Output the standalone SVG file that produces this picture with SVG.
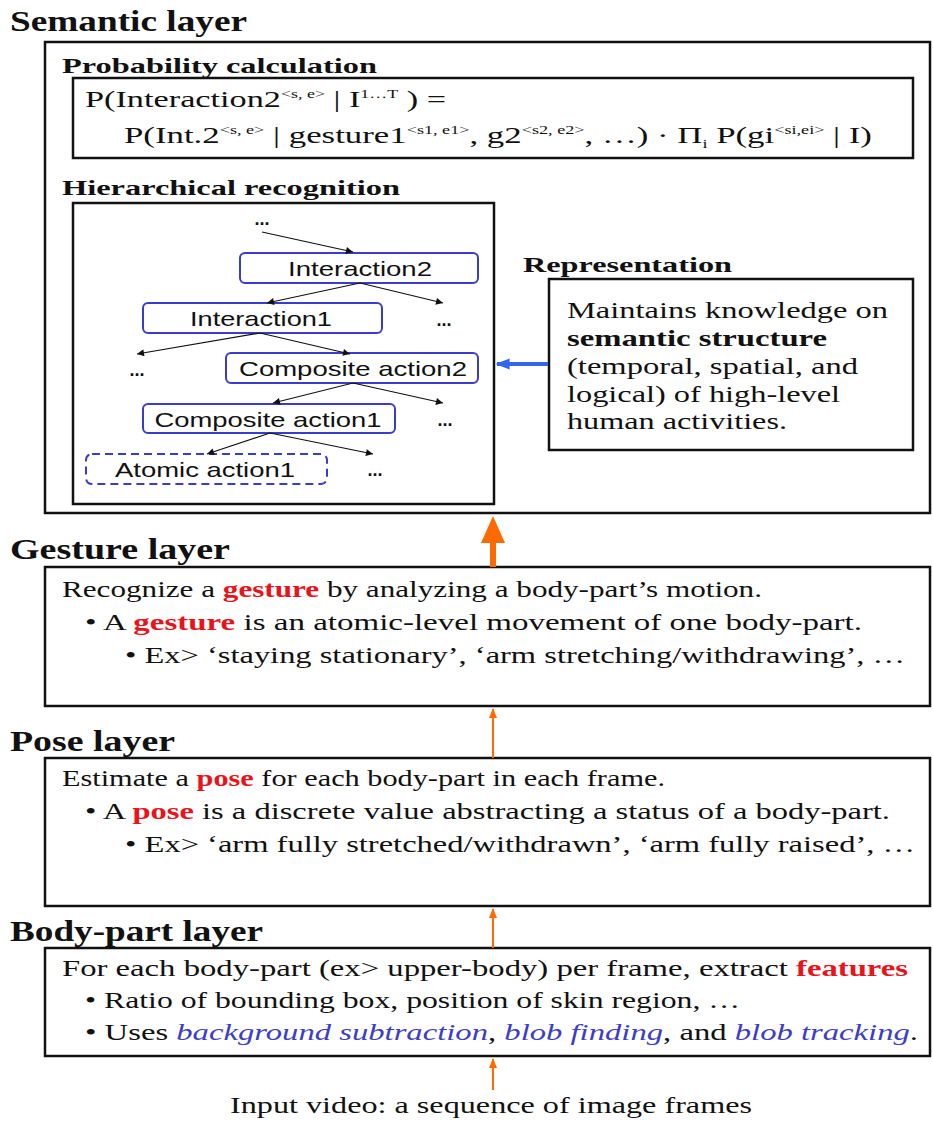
<svg xmlns="http://www.w3.org/2000/svg" width="933" height="1123" viewBox="0 0 933 1123">
<defs>
<style>
.title{font-family:"Liberation Serif",serif;font-weight:bold;font-size:29px;fill:#111}
.sub{font-family:"Liberation Serif",serif;font-weight:bold;font-size:22px;fill:#111}
.body{font-family:"Liberation Serif",serif;font-size:23px;fill:#111}
.rep{font-family:"Liberation Serif",serif;font-size:24px;fill:#111}
.frm{font-family:"Liberation Serif",serif;font-size:23px;fill:#111}
.sup{font-size:12px}
.node{font-family:"Liberation Sans",Arial,sans-serif;font-size:21px;fill:#111;text-anchor:middle}
.dots{font-family:"Liberation Sans",Arial,sans-serif;font-size:18px;font-weight:bold;fill:#111;text-anchor:middle}
.red{fill:#e8141b;font-weight:bold}
.bl{fill:#3d3dc8;font-style:italic}
.box{fill:#fff;stroke:#111;stroke-width:2.5}
.nbox{fill:#fff;stroke:#3b3bcc;stroke-width:2}
.tree{stroke:#111;stroke-width:1.2;fill:none;marker-end:url(#ah)}
.orange{stroke:#ff6a00;fill:none}
</style>
<marker id="ah" viewBox="0 0 10 10" refX="10" refY="5" markerWidth="9" markerHeight="7" markerUnits="userSpaceOnUse" orient="auto"><path d="M0,0 L10,5 L0,10 z" fill="#111"/></marker>
<marker id="oh" viewBox="0 0 10 10" refX="9" refY="5" markerWidth="10" markerHeight="10" markerUnits="userSpaceOnUse" orient="auto"><path d="M0,1 L10,5 L0,9 z" fill="#ff6a00"/></marker>
<marker id="bh" viewBox="0 0 10 10" refX="9" refY="5" markerWidth="14" markerHeight="14" markerUnits="userSpaceOnUse" orient="auto"><path d="M0,1 L10,5 L0,9 z" fill="#3366ee"/></marker>
</defs>
<rect width="933" height="1123" fill="#fff"/>

<g id="semantic-layer">
<text class="title" x="10" y="31" textLength="237" lengthAdjust="spacingAndGlyphs">Semantic layer</text>
<rect class="box" x="45" y="42" width="885" height="471"/>
</g>

<g id="probability">
<text class="sub" x="62" y="73" textLength="315" lengthAdjust="spacingAndGlyphs">Probability calculation</text>
<rect class="box" x="73" y="78" width="840" height="80"/>
<text class="frm" x="85" y="107" textLength="361" lengthAdjust="spacingAndGlyphs">P(Interaction2<tspan class="sup" dy="-9">&lt;s, e&gt;</tspan><tspan dy="9"> | I</tspan><tspan class="sup" dy="-9">1…T</tspan><tspan dy="9"> ) =</tspan></text>
<text class="frm" x="124" y="143" textLength="748" lengthAdjust="spacingAndGlyphs">P(Int.2<tspan class="sup" dy="-9">&lt;s, e&gt;</tspan><tspan dy="9"> | gesture1</tspan><tspan class="sup" dy="-9">&lt;s1, e1&gt;</tspan><tspan dy="9">, g2</tspan><tspan class="sup" dy="-9">&lt;s2, e2&gt;</tspan><tspan dy="9">, …) · Π</tspan><tspan class="sup" dy="5">i</tspan><tspan dy="-5"> P(gi</tspan><tspan class="sup" dy="-9">&lt;si,ei&gt;</tspan><tspan dy="9"> | I)</tspan></text>
</g>

<g id="hierarchical">
<text class="sub" x="62" y="195" textLength="338" lengthAdjust="spacingAndGlyphs">Hierarchical recognition</text>
<rect class="box" x="73" y="203" width="421" height="301"/>
</g>

<g id="node-interaction2">
<rect class="nbox" x="240" y="253" width="238" height="30" rx="5"/>
<text class="node" x="360" y="276" textLength="144" lengthAdjust="spacingAndGlyphs">Interaction2</text>
</g>
<g id="node-interaction1">
<rect class="nbox" x="143" y="303" width="239" height="30" rx="5"/>
<text class="node" x="261" y="326" textLength="142" lengthAdjust="spacingAndGlyphs">Interaction1</text>
</g>
<g id="node-composite2">
<rect class="nbox" x="226" y="353" width="252" height="30" rx="5"/>
<text class="node" x="353" y="376" textLength="228" lengthAdjust="spacingAndGlyphs">Composite action2</text>
</g>
<g id="node-composite1">
<rect class="nbox" x="143" y="404" width="252" height="29" rx="5"/>
<text class="node" x="268" y="427" textLength="227" lengthAdjust="spacingAndGlyphs">Composite action1</text>
</g>
<g id="node-atomic1">
<rect class="nbox" x="86" y="454" width="241" height="30" rx="6" stroke-dasharray="8,5"/>
<text class="node" x="205" y="477" textLength="180" lengthAdjust="spacingAndGlyphs">Atomic action1</text>
</g>
<g id="dots">
<text class="dots" x="262" y="225">...</text>
<text class="dots" x="444" y="326">...</text>
<text class="dots" x="137" y="376">...</text>
<text class="dots" x="445" y="426">...</text>
<text class="dots" x="375" y="476">...</text>
</g>

<g id="representation">
<text class="sub" x="523" y="272" font-size="23" textLength="209" lengthAdjust="spacingAndGlyphs">Representation</text>
<rect class="box" x="549" y="279" width="364" height="171"/>
<text class="rep" x="567" y="318" textLength="321" lengthAdjust="spacingAndGlyphs">Maintains knowledge on</text>
<text class="rep" x="567" y="346" font-weight="bold" textLength="260" lengthAdjust="spacingAndGlyphs">semantic structure</text>
<text class="rep" x="567" y="374" textLength="291" lengthAdjust="spacingAndGlyphs">(temporal, spatial, and</text>
<text class="rep" x="567" y="402" textLength="273" lengthAdjust="spacingAndGlyphs">logical) of high-level</text>
<text class="rep" x="567" y="429" textLength="220" lengthAdjust="spacingAndGlyphs">human activities.</text>
</g>

<g id="gesture-layer">
<text class="title" x="10" y="559" textLength="220" lengthAdjust="spacingAndGlyphs">Gesture layer</text>
<rect class="box" x="45" y="567" width="885" height="139"/>
<text class="body" x="62" y="597" textLength="700" lengthAdjust="spacingAndGlyphs">Recognize a <tspan class="red">gesture</tspan> by analyzing a body-part’s motion.</text>
<text class="body" x="85" y="630" textLength="777" lengthAdjust="spacingAndGlyphs">• A <tspan class="red">gesture</tspan> is an atomic-level movement of one body-part.</text>
<text class="body" x="125" y="663" textLength="780" lengthAdjust="spacingAndGlyphs">• Ex&gt; ‘staying stationary’, ‘arm stretching/withdrawing’, …</text>
</g>

<g id="pose-layer">
<text class="title" x="10" y="751" textLength="165" lengthAdjust="spacingAndGlyphs">Pose layer</text>
<rect class="box" x="45" y="758" width="885" height="148"/>
<text class="body" x="62" y="786" textLength="603" lengthAdjust="spacingAndGlyphs">Estimate a <tspan class="red">pose</tspan> for each body-part in each frame.</text>
<text class="body" x="85" y="819" textLength="805" lengthAdjust="spacingAndGlyphs">• A <tspan class="red">pose</tspan> is a discrete value abstracting a status of a body-part.</text>
<text class="body" x="125" y="852" textLength="790" lengthAdjust="spacingAndGlyphs">• Ex&gt; ‘arm fully stretched/withdrawn’, ‘arm fully raised’, …</text>
</g>

<g id="body-part-layer">
<text class="title" x="10" y="941" textLength="253" lengthAdjust="spacingAndGlyphs">Body-part layer</text>
<rect class="box" x="45" y="948" width="885" height="108"/>
<text class="body" x="62" y="976" textLength="846" lengthAdjust="spacingAndGlyphs">For each body-part (ex&gt; upper-body) per frame, extract <tspan class="red">features</tspan></text>
<text class="body" x="85" y="1008" textLength="655" lengthAdjust="spacingAndGlyphs">• Ratio of bounding box, position of skin region, …</text>
<text class="body" x="85" y="1040" textLength="833" lengthAdjust="spacingAndGlyphs">• Uses <tspan class="bl">background subtraction</tspan>, <tspan class="bl">blob finding</tspan>, and <tspan class="bl">blob tracking</tspan>.</text>
</g>

<g id="input-video">
<text class="body" x="230" y="1113" textLength="522" lengthAdjust="spacingAndGlyphs">Input video: a sequence of image frames</text>
</g>

<g id="connectors">
<path class="tree" d="M262,232 L353,252"/>
<path class="tree" d="M360,283 L267,303"/>
<path class="tree" d="M360,283 L443,303"/>
<path class="tree" d="M260,333 L137,354"/>
<path class="tree" d="M260,333 L350,354"/>
<path class="tree" d="M353,383 L273,403"/>
<path class="tree" d="M353,383 L443,403"/>
<path class="tree" d="M270,433 L207,454"/>
<path class="tree" d="M270,433 L373,454"/>
<path d="M548,364 L497,364" stroke="#3366ee" stroke-width="4" fill="none" marker-end="url(#bh)"/>
<path d="M493,567 L493,540" stroke="#ff6a00" stroke-width="6" fill="none"/>
<path d="M481,543 L493,516 L505,543 z" fill="#ff6a00"/>
<path class="orange" d="M493,758 L493,709" stroke-width="2" marker-end="url(#oh)"/>
<path class="orange" d="M493,948 L493,909" stroke-width="2" marker-end="url(#oh)"/>
<path class="orange" d="M493,1090 L493,1059" stroke-width="2" marker-end="url(#oh)"/>
</g>
</svg>
